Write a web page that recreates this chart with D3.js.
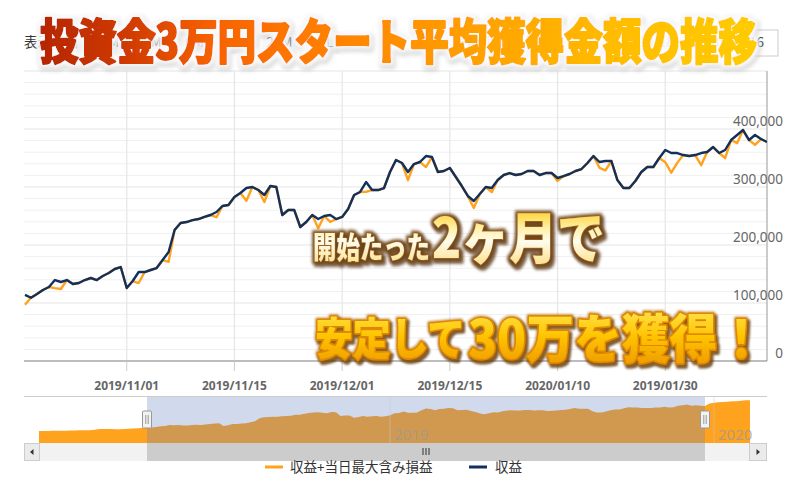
<!DOCTYPE html>
<html><head><meta charset="utf-8">
<script src="https://cdn.jsdelivr.net/npm/d3@7"></script>
<style>
html,body{margin:0;padding:0;background:#fff;}
svg{display:block;font-family:"Noto Sans CJK JP","Noto Sans",sans-serif;}
</style></head><body>
<svg id="c" width="800" height="483"></svg>
<script>
// ---------------- data ----------------
const profit = [114000,109000,115500,122400,127600,139600,136200,139600,132700,134500,
139600,143100,139600,146500,151700,158600,162000,125900,137900,153400,
153400,156900,160300,174100,187900,225800,237900,239600,243000,244800,
248300,251700,256900,267200,268900,282700,289600,298200,300000,294800,
286200,301700,300000,251700,260300,260300,231000,239600,251700,244800,
250000,251700,244800,248300,262000,286200,291400,308600,294800,294800,
298200,325800,346500,341400,325800,339600,343100,353400,351700,325800,
327600,332700,317200,301700,284500,275800,287900,300000,298200,312000,
320700,324100,320700,322400,327600,327600,320700,324100,324100,315500,
318900,322400,327600,331000,341400,353400,343100,344800,344800,312000,
298200,298200,310300,325800,334500,334500,350000,363800,358600,358600,
355100,353400,355100,358600,360300,368900,358600,363800,381000,389600,
398200,381000,389600,382700,377600];
// intraday max unrealised loss (dips of the orange series below profit)
const dipIndex  = [0,5,6,19,24,32,37,40,49,51,57,64,67,75,78,89,96,97,107,108,109,113,117,119,122];
const dipAmount = [17000,14000,12000,19000,17000,9000,22000,12000,16000,12000,17000,14000,19000,12000,7000,5000,10000,16000,21000,34000,17000,21000,14000,14000,17000];
// navigator: data before / after the visible range
const navPre  = [64000,64000,65000,66000,66000,67000,68000,69000,70000,72000,73000,75000,78000,85000,88000,90000,88000,86000,87000,89000,92000,95000,98000,101000];
const navPost = [410000,420000,425000,430000,432000,438000,440000,445000,450000,452000];
const navYearIndex = [78,150];
const navYearLabels = ["2019","2020"];

const xTickIndex  = [17,35,53,71,89,107];
const xTickLabels = ["2019/11/01","2019/11/15","2019/12/01","2019/12/15","2020/01/10","2019/01/30"];
const yTicks      = [0,100000,200000,300000,400000];
const yTickLabels = ["0","100,000","200,000","300,000","400,000"];
const rangeButtons = ["1M","3M","6M","12M","24M","ALL"];
const seriesNames = ["収益+当日最大含み損益","収益"];
const seriesColors = ["#ffa21e","#12305c"];

// ---------------- setup ----------------
const svg = d3.select("#c");
const P = {l:24, r:767, t:71, b:361};
const x = d3.scaleLinear().domain([0, profit.length-1]).range([25, P.r]);
const y = d3.scaleLinear().domain([0, 500000]).range([P.b, P.t]);

const maxLoss = profit.slice();
dipIndex.forEach((idx,k)=>{ maxLoss[idx] = profit[idx] - dipAmount[k]; });

const defs = svg.append("defs");
defs.append("clipPath").attr("id","plotclip").append("rect")
  .attr("x",P.l).attr("y",P.t-2).attr("width",P.r-P.l).attr("height",P.b-P.t+2);

// ---------------- range selector / date box ----------------
const rs = svg.append("g").attr("font-size",13.5).attr("fill","#333");
rs.append("text").attr("x",24).attr("y",47).text("表示範囲");
rangeButtons.forEach((b,i)=>{
  const cx = 110 + i*42.4;
  rs.append("rect").attr("x",cx-17).attr("y",31).attr("width",34).attr("height",23)
    .attr("fill","#f7f7f7");
  rs.append("text").attr("x",cx).attr("y",47).attr("text-anchor","middle").text(b);
});
rs.append("text").attr("x",453).attr("y",47).text("表示期間");
rs.append("rect").attr("x",520).attr("y",30).attr("width",258).attr("height",26)
  .attr("fill","#fff").attr("stroke","#ccc");
rs.append("text").attr("x",764).attr("y",47).attr("text-anchor","end").text("2019/10/18 ～ 2020/02/16");

// ---------------- grid ----------------
const grid = svg.append("g");
d3.range(0, 500001, 20000).forEach(v=>{
  if (v % 100000 === 0) return;
  grid.append("line").attr("x1",P.l).attr("x2",P.r).attr("y1",y(v)).attr("y2",y(v))
    .attr("stroke","#f0f0f0").attr("stroke-width",1);
});
d3.range(0, 500001, 100000).forEach(v=>{
  grid.append("line").attr("x1",P.l).attr("x2",P.r).attr("y1",y(v)).attr("y2",y(v))
    .attr("stroke","#e6e6e6").attr("stroke-width",1.2);
});
xTickIndex.forEach(i=>{
  grid.append("line").attr("x1",x(i)).attr("x2",x(i)).attr("y1",P.t).attr("y2",P.b)
    .attr("stroke","#e6e6e6").attr("stroke-width",1.2);
});

svg.append("line").attr("x1",P.r).attr("x2",P.r).attr("y1",P.t).attr("y2",P.b)
  .attr("stroke","#999").attr("stroke-width",1);
svg.append("line").attr("x1",P.l).attr("x2",P.r).attr("y1",P.b).attr("y2",P.b)
  .attr("stroke","#888").attr("stroke-width",1.2);
xTickIndex.forEach(i=>{
  svg.append("line").attr("x1",x(i)).attr("x2",x(i)).attr("y1",P.b).attr("y2",P.b+10)
    .attr("stroke","#ccc");
});

const yl = svg.append("g").attr("font-family","'Noto Sans',sans-serif").attr("font-size",13.5).attr("fill","#666");
yTicks.forEach((v,i)=>{
  yl.append("text").attr("x",783).attr("y",y(v)-3).attr("text-anchor","end").text(yTickLabels[i]);
});
const xl = svg.append("g").attr("font-family","'Noto Sans',sans-serif").attr("font-size",12)
  .attr("font-weight","bold").attr("fill","#666");
xTickIndex.forEach((i,k)=>{
  xl.append("text").attr("x",x(i)).attr("y",390).attr("text-anchor","middle").text(xTickLabels[k]);
});

// ---------------- series ----------------
const line = d3.line().x((d,i)=>x(i)).y(d=>y(d));
const sg = svg.append("g").attr("clip-path","url(#plotclip)");
sg.append("path").attr("d",line(maxLoss)).attr("fill","none")
  .attr("stroke",seriesColors[0]).attr("stroke-width",2.4).attr("stroke-linejoin","round");
sg.append("path").attr("d",line(profit)).attr("fill","none")
  .attr("stroke",seriesColors[1]).attr("stroke-width",2.4).attr("stroke-linejoin","round");

// ---------------- navigator ----------------
const navData = navPre.concat(profit, navPost);
const nx = d3.scaleLinear().domain([0, navData.length-1]).range([39, 750]);
const ny = d3.scaleLinear().domain([-87000, 492000]).range([443, 397]);
const nav = svg.append("g");
nav.append("line").attr("x1",P.l).attr("x2",P.r).attr("y1",396.5).attr("y2",396.5).attr("stroke","#ccc");
const area = d3.area().x((d,i)=>nx(i)).y0(443).y1(d=>ny(d));
nav.append("path").attr("d",area(navData)).attr("fill",seriesColors[0]);
const selA = navPre.length, selB = navPre.length + profit.length - 1;
nav.append("rect").attr("x",nx(selA)).attr("y",397).attr("width",nx(selB)-nx(selA)).attr("height",46)
  .attr("fill","rgba(102,133,194,0.3)");
navYearIndex.forEach((i,k)=>{
  nav.append("line").attr("x1",nx(i)).attr("x2",nx(i)).attr("y1",397).attr("y2",443)
    .attr("stroke","rgba(200,200,210,0.5)");
  nav.append("text").attr("x",nx(i)+4).attr("y",440).attr("font-family","'Noto Sans',sans-serif")
    .attr("font-size",15).attr("fill","#999").attr("fill-opacity",0.75).text(navYearLabels[k]);
});
[selA, selB].forEach(i=>{
  const hx = nx(i);
  nav.append("rect").attr("x",hx-4.5).attr("y",411).attr("width",9).attr("height",17).attr("rx",1)
    .attr("fill","#f2f2f2").attr("stroke","#999");
  nav.append("line").attr("x1",hx-1.2).attr("x2",hx-1.2).attr("y1",415).attr("y2",424).attr("stroke","#999");
  nav.append("line").attr("x1",hx+1.2).attr("x2",hx+1.2).attr("y1",415).attr("y2",424).attr("stroke","#999");
});

const sb = svg.append("g");
sb.append("rect").attr("x",40).attr("y",443).attr("width",709).attr("height",18).attr("fill","#f2f2f2");
sb.append("rect").attr("x",nx(selA)).attr("y",443).attr("width",nx(selB)-nx(selA)).attr("height",18).attr("fill","#cccccc");
[[24,40],[749,767]].forEach(([a,b],k)=>{
  sb.append("rect").attr("x",a+0.5).attr("y",443.5).attr("width",b-a-1).attr("height",17)
    .attr("fill","#ebebeb").attr("stroke","#ccc");
  const cx=(a+b)/2, cy=452;
  const pts = k===0 ? [[cx-2,cy],[cx+1.5,cy-3],[cx+1.5,cy+3]] : [[cx+2,cy],[cx-1.5,cy-3],[cx-1.5,cy+3]];
  sb.append("path").attr("d","M"+pts.map(p=>p.join(",")).join("L")+"Z").attr("fill","#333");
});
const gx = (nx(selA)+nx(selB))/2;
[-3,0,3].forEach(d=>{
  sb.append("line").attr("x1",gx+d).attr("x2",gx+d).attr("y1",448).attr("y2",455).attr("stroke","#333");
});

// ---------------- legend ----------------
const lg = svg.append("g").attr("font-size",13.5).attr("fill","#333");
[[265,290],[469,495]].forEach(([lx,tx],k)=>{
  lg.append("line").attr("x1",lx).attr("x2",lx+18).attr("y1",467).attr("y2",467)
    .attr("stroke",seriesColors[k]).attr("stroke-width",3);
  lg.append("text").attr("x",tx).attr("y",472).text(seriesNames[k]);
});

// ---------------- overlay titles ----------------
const g1 = defs.append("linearGradient").attr("id","g1").attr("gradientUnits","userSpaceOnUse")
  .attr("x1",40).attr("x2",757).attr("y1",0).attr("y2",0);
[[0,"#b62600"],[0.12,"#cf3a00"],[0.24,"#f76200"],[0.4,"#ff8000"],[0.6,"#ffa000"],[0.8,"#ffbc00"],[1,"#ffcc00"]]
  .forEach(([o,c])=>g1.append("stop").attr("offset",o).attr("stop-color",c));
const g2 = defs.append("linearGradient").attr("id","g2").attr("gradientUnits","userSpaceOnUse")
  .attr("x1",0).attr("x2",0).attr("y1",210).attr("y2",262);
[[0,"#ffcf2a"],[0.35,"#fff0a8"],[0.6,"#fffcee"],[1,"#ffe396"]]
  .forEach(([o,c])=>g2.append("stop").attr("offset",o).attr("stop-color",c));
const g3 = defs.append("linearGradient").attr("id","g3").attr("gradientUnits","userSpaceOnUse")
  .attr("x1",0).attr("x2",0).attr("y1",310).attr("y2",362);
[[0,"#ffe24a"],[0.5,"#ffc400"],[1,"#f0a000"]]
  .forEach(([o,c])=>g3.append("stop").attr("offset",o).attr("stop-color",c));

function shadowFilter(id, glowColor, glowOp, dil, blur, dx, dy, shColor, shOp){
  const f = defs.append("filter").attr("id",id).attr("x","-10%").attr("y","-30%").attr("width","120%").attr("height","160%");
  f.append("feMorphology").attr("in","SourceAlpha").attr("operator","dilate").attr("radius",dil).attr("result","dil");
  f.append("feGaussianBlur").attr("in","dil").attr("stdDeviation",blur).attr("result","blr");
  f.append("feFlood").attr("flood-color",glowColor).attr("flood-opacity",glowOp).attr("result","gc");
  f.append("feComposite").attr("in","gc").attr("in2","blr").attr("operator","in").attr("result","glow");
  f.append("feOffset").attr("in","blr").attr("dx",dx).attr("dy",dy).attr("result","off");
  f.append("feFlood").attr("flood-color",shColor).attr("flood-opacity",shOp).attr("result","sc");
  f.append("feComposite").attr("in","sc").attr("in2","off").attr("operator","in").attr("result","sh");
  const m = f.append("feMerge");
  m.append("feMergeNode").attr("in","sh");
  m.append("feMergeNode").attr("in","glow");
  m.append("feMergeNode").attr("in","SourceGraphic");
}
shadowFilter("f1","#ffffff",0.9,3,2,1,2,"#555",0.45);
shadowFilter("f2","#6b3f14",0.85,1.5,1.4,1.5,2.5,"#4a2a08",0.7);
shadowFilter("f3","#a85e00",0.6,1,1.2,2,3,"#5a3408",0.8);

const T = svg.append("g").attr("font-family","'Noto Sans CJK JP',sans-serif").attr("font-weight",900);
T.append("text").attr("x",40).attr("y",59).attr("font-size",48)
  .attr("textLength",717).attr("lengthAdjust","spacingAndGlyphs")
  .attr("fill","url(#g1)").attr("stroke","url(#g1)").attr("stroke-width",2.2).attr("stroke-linejoin","round")
  .attr("filter","url(#f1)")
  .text("投資金3万円スタート平均獲得金額の推移");

T.append("text").attr("x",313).attr("y",258).attr("font-size",30)
  .attr("textLength",117).attr("lengthAdjust","spacingAndGlyphs")
  .attr("fill","url(#g2)").attr("stroke","#9a6420").attr("stroke-width",1.4).attr("paint-order","stroke fill")
  .attr("filter","url(#f2)").text("開始たった");
T.append("text").attr("x",432).attr("y",258).attr("font-size",55)
  .attr("textLength",173).attr("lengthAdjust","spacingAndGlyphs")
  .attr("fill","url(#g2)").attr("stroke","#9a6420").attr("stroke-width",1.6).attr("paint-order","stroke fill")
  .attr("filter","url(#f2)").text("2ヶ月で");

T.append("text").attr("x",315).attr("y",355).attr("font-size",44)
  .attr("textLength",150).attr("lengthAdjust","spacingAndGlyphs")
  .attr("fill","url(#g3)").attr("stroke","#e08800").attr("stroke-width",3.2).attr("paint-order","stroke fill")
  .attr("stroke-linejoin","round").attr("filter","url(#f3)").text("安定して");
T.append("text").attr("x",468).attr("y",358).attr("font-size",52)
  .attr("textLength",297).attr("lengthAdjust","spacingAndGlyphs")
  .attr("fill","url(#g3)").attr("stroke","#e08800").attr("stroke-width",3.2).attr("paint-order","stroke fill")
  .attr("stroke-linejoin","round").attr("filter","url(#f3)").text("30万を獲得！");
</script>
</body></html>
